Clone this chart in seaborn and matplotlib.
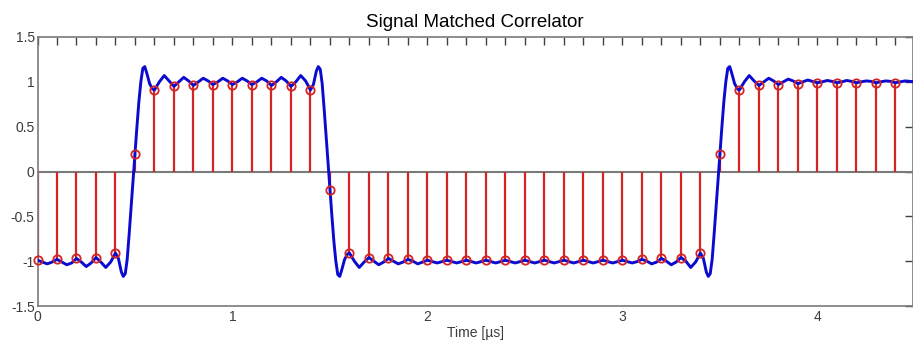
import matplotlib
matplotlib.use("Agg")
import matplotlib.pyplot as plt
from matplotlib.ticker import MultipleLocator, FuncFormatter
import seaborn as sns

# ---------------- data ----------------
sample_time = [0.0, 0.1, 0.2, 0.3, 0.4, 0.5, 0.6, 0.7, 0.8, 0.9,
               1.0, 1.1, 1.2, 1.3, 1.4, 1.5, 1.6, 1.7, 1.8, 1.9,
               2.0, 2.1, 2.2, 2.3, 2.4, 2.5, 2.6, 2.7, 2.8, 2.9,
               3.0, 3.1, 3.2, 3.3, 3.4, 3.5, 3.6, 3.7, 3.8, 3.9,
               4.0, 4.1, 4.2, 4.3, 4.4]
sample_value = [-0.99, -0.98, -0.97, -0.96, -0.91, 0.20, 0.91, 0.95, 0.96, 0.97,
                0.97, 0.97, 0.96, 0.95, 0.91, -0.21, -0.91, -0.96, -0.97, -0.98,
                -0.99, -0.99, -0.99, -0.99, -0.99, -0.99, -0.99, -0.99, -0.99, -0.99,
                -0.99, -0.98, -0.97, -0.96, -0.91, 0.20, 0.91, 0.96, 0.97, 0.98,
                0.99, 0.99, 0.99, 0.99, 0.99]

curve_time = [
    0.000, 0.025, 0.050, 0.075, 0.100, 0.125, 0.150, 0.175, 0.200, 0.225, 0.250, 0.275, 0.300, 0.325, 0.350, 0.375, 0.400,
    0.415, 0.430, 0.440, 0.450, 0.460, 0.470, 0.480, 0.490, 0.500, 0.510, 0.520, 0.530, 0.540, 0.550, 0.560, 0.575, 0.590,
    0.600, 0.625, 0.650, 0.675, 0.700, 0.725, 0.750, 0.775, 0.800, 0.825, 0.850, 0.875, 0.900, 0.925, 0.950, 0.975,
    1.000, 1.025, 1.050, 1.075, 1.100, 1.125, 1.150, 1.175, 1.200, 1.225, 1.250, 1.275, 1.300, 1.325, 1.350, 1.375, 1.400,
    1.415, 1.430, 1.440, 1.450, 1.460, 1.470, 1.480, 1.490, 1.500, 1.510, 1.520, 1.530, 1.540, 1.550, 1.560, 1.575, 1.590,
    1.600, 1.625, 1.650, 1.675, 1.700, 1.725, 1.750, 1.775, 1.800, 1.825, 1.850, 1.875, 1.900, 1.925, 1.950, 1.975,
    2.000, 2.025, 2.050, 2.075, 2.100, 2.125, 2.150, 2.175, 2.200, 2.225, 2.250, 2.275, 2.300, 2.325, 2.350, 2.375,
    2.400, 2.425, 2.450, 2.475, 2.500, 2.525, 2.550, 2.575, 2.600, 2.625, 2.650, 2.675, 2.700, 2.725, 2.750, 2.775,
    2.800, 2.825, 2.850, 2.875, 2.900, 2.925, 2.950, 2.975,
    3.000, 3.025, 3.050, 3.075, 3.100, 3.125, 3.150, 3.175, 3.200, 3.225, 3.250, 3.275, 3.300, 3.325, 3.350, 3.375, 3.400,
    3.415, 3.430, 3.440, 3.450, 3.460, 3.470, 3.480, 3.490, 3.500, 3.510, 3.520, 3.530, 3.540, 3.550, 3.560, 3.575, 3.590,
    3.600, 3.625, 3.650, 3.675, 3.700, 3.725, 3.750, 3.775, 3.800, 3.825, 3.850, 3.875, 3.900, 3.925, 3.950, 3.975,
    4.000, 4.025, 4.050, 4.075, 4.100, 4.125, 4.150, 4.175, 4.200, 4.225, 4.250, 4.275, 4.300, 4.325, 4.350, 4.375,
    4.400, 4.425, 4.450, 4.475, 4.500]
curve_value = [
    -0.99, -1.01, -1.03, -1.01, -0.98, -1.01, -1.04, -1.02, -0.97, -1.01, -1.06, -1.02, -0.96, -1.01, -1.07, -1.01, -0.91,
    -0.97, -1.12, -1.17, -1.14, -0.98, -0.70, -0.40, -0.10, 0.20, 0.50, 0.78, 1.00, 1.15, 1.17, 1.10, 0.98, 0.92,
    0.91, 1.00, 1.07, 1.01, 0.95, 1.00, 1.05, 1.01, 0.96, 1.00, 1.04, 1.01, 0.97, 1.00, 1.04, 1.01,
    0.97, 1.00, 1.04, 1.01, 0.97, 1.00, 1.04, 1.01, 0.96, 1.00, 1.05, 1.01, 0.95, 1.00, 1.07, 1.01, 0.91,
    0.97, 1.12, 1.17, 1.14, 0.98, 0.70, 0.40, 0.10, -0.20, -0.50, -0.78, -1.00, -1.15, -1.17, -1.10, -0.98, -0.92,
    -0.91, -1.00, -1.07, -1.01, -0.96, -1.00, -1.04, -1.01, -0.97, -1.00, -1.03, -1.01, -0.98, -1.00, -1.03, -1.01,
    -0.99, -1.005, -1.02, -1.005, -0.99, -1.005, -1.02, -1.005, -0.99, -1.005, -1.02, -1.005, -0.99, -1.005, -1.02, -1.005,
    -0.99, -1.005, -1.02, -1.005, -0.99, -1.005, -1.02, -1.005, -0.99, -1.005, -1.02, -1.005, -0.99, -1.005, -1.02, -1.005,
    -0.99, -1.005, -1.02, -1.005, -0.99, -1.005, -1.02, -1.005,
    -0.99, -1.005, -1.02, -1.005, -0.98, -1.00, -1.03, -1.01, -0.97, -1.00, -1.04, -1.01, -0.96, -1.00, -1.07, -1.01, -0.91,
    -0.97, -1.12, -1.17, -1.14, -0.98, -0.70, -0.40, -0.10, 0.20, 0.50, 0.78, 1.00, 1.15, 1.17, 1.10, 0.98, 0.92,
    0.91, 1.00, 1.07, 1.01, 0.96, 1.00, 1.04, 1.01, 0.97, 1.00, 1.03, 1.01, 0.98, 1.00, 1.02, 1.005,
    0.99, 1.00, 1.015, 1.005, 0.99, 1.00, 1.015, 1.005, 0.99, 1.00, 1.01, 1.005, 0.99, 1.00, 1.01, 1.005,
    0.99, 1.00, 1.01, 1.005, 1.00]

title_text = "Signal Matched Correlator"
xlabel_text = "Time [\u00b5s]"

# ---------------- styling ----------------
sns.set_theme(style="white")
plt.rcParams['font.family'] = ['Liberation Sans', 'DejaVu Sans']
plt.rcParams['axes.unicode_minus'] = False

RED = "#d42424"
BLUE = "#0a0ad0"
GRAY = "#7a7a7a"
TXT = "#3c3c3c"

fig = plt.figure(figsize=(9.13, 3.42), dpi=100)
ax = fig.add_axes([37.5 / 913, 36 / 342, 875.5 / 913, 269 / 342])

ax.axhline(0, color=GRAY, lw=1.5, zorder=1)
ax.vlines(sample_time, 0, sample_value, color=RED, lw=1.6, zorder=2)
sns.lineplot(x=curve_time, y=curve_value, ax=ax, color=BLUE, lw=2.1,
             sort=False, estimator=None, zorder=3)
sns.lineplot(x=sample_time, y=sample_value, ax=ax, linestyle='', marker='o',
             markersize=6, markerfacecolor='none', markeredgecolor=RED,
             markeredgewidth=1.3, estimator=None, sort=False, zorder=4,
             clip_on=False)

ax.set_xlim(0, 4.49)
ax.set_ylim(-1.5, 1.5)
ax.xaxis.set_major_locator(MultipleLocator(1))
ax.xaxis.set_minor_locator(MultipleLocator(0.1))
ax.yaxis.set_major_locator(MultipleLocator(0.5))
ax.yaxis.set_major_formatter(FuncFormatter(lambda v, p: f"{v:g}"))
ax.tick_params(which='both', direction='in', top=True, right=True,
               length=6, width=1, color='#404040')
ax.tick_params(axis='both', which='major', labelsize=10, labelcolor=TXT, pad=3)
ax.tick_params(axis='y', pad=2)

for s in ax.spines.values():
    s.set_color(GRAY)
    s.set_linewidth(1.2)

ax.set_title(title_text, fontsize=13.5, color='black', pad=7)
ax.set_xlabel(xlabel_text, fontsize=10, color=TXT, labelpad=1)
ax.set_ylabel("")

fig.savefig("out.png", dpi=100)
